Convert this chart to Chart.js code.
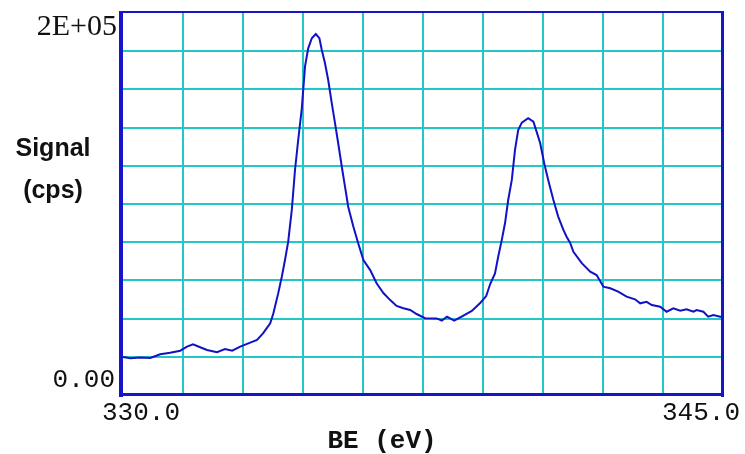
<!DOCTYPE html>
<html>
<head>
<meta charset="utf-8">
<script src="https://cdn.jsdelivr.net/npm/chart.js@4/dist/chart.umd.min.js"></script>
<style>
html,body{margin:0;padding:0;background:#fff;}
canvas{display:block;}
</style>
</head>
<body>
<canvas id="c" width="745" height="454"></canvas>
<script>
// Binding energy (eV)
const beValues = [330.00,330.18,330.43,330.68,330.93,331.18,331.43,331.60,331.75,331.93,
332.10,332.35,332.55,332.73,332.93,333.18,333.35,333.50,333.59,333.68,
333.76,333.88,333.97,334.05,334.13,334.22,334.30,334.38,334.47,334.55,
334.63,334.72,334.82,334.91,334.97,335.05,335.13,335.22,335.30,335.38,
335.47,335.55,335.63,335.76,335.88,336.01,336.18,336.34,336.51,336.68,
336.84,337.01,337.18,337.34,337.55,337.84,337.97,338.10,338.28,338.51,
338.72,338.93,339.08,339.18,339.30,339.38,339.47,339.55,339.63,339.72,
339.80,339.88,339.97,340.13,340.26,340.34,340.43,340.53,340.63,340.76,
340.88,341.01,341.09,341.18,341.26,341.47,341.68,341.84,342.01,342.18,
342.38,342.59,342.80,342.93,343.09,343.22,343.43,343.59,343.76,343.93,
344.09,344.26,344.34,344.51,344.63,344.76,344.93,345.00];
// Signal (cps)
const signalCps = [19900,19200,19600,19400,21300,22100,23200,25300,26500,25000,
23600,22400,24100,23200,25300,27400,28800,32300,34900,37500,
42800,53200,61900,70700,80300,96900,117800,133500,150100,171900,
181500,186800,189000,186800,180600,173700,164900,152700,142300,131800,
119500,109100,98600,88100,79400,70700,65400,58500,53400,49700,
46600,45400,44500,42400,40200,40100,39000,41000,39000,41600,
44000,48200,51800,58100,63700,72400,81200,89900,102100,112600,
128300,138700,142600,144900,143100,137900,131800,121300,112600,102100,
93400,86400,82900,79600,75000,69000,64600,62800,56700,55900,
54100,51500,50100,48000,48800,47100,46200,43600,45400,44100,
44900,43600,44500,43600,41000,41900,41000,41000];

const xTickValues = [330, 345];
const xTickLabels = ['330.0', '345.0'];
const yTickValues = [0, 200000];
const yTickLabels = ['0.00', '2E+05'];
const xTitle = 'BE (eV)';
const yTitleLines = ['Signal', '(cps)'];

const GRID = '#22c8c8';
const FRAME = '#1616c8';
const LINE = '#1212c4';

const gridColor = (ctx) => {
  const n = ctx.scale.ticks.length;
  return (ctx.index === 0 || ctx.index === n - 1) ? 'rgba(0,0,0,0)' : GRID;
};

const framePlugin = {
  id: 'frame',
  afterDatasetsDraw(chart) {
    const {ctx, chartArea: a} = chart;
    ctx.save();
    ctx.fillStyle = FRAME;
    ctx.fillRect(a.left - 4, a.top - 2, 4, a.bottom - a.top + 4);   // left
    ctx.fillRect(a.right - 2, a.top - 2, 3, a.bottom - a.top + 4);  // right
    ctx.fillRect(a.left - 4, a.top - 2, a.right - a.left + 5, 2);   // top
    ctx.fillRect(a.left - 4, a.bottom - 2, a.right - a.left + 5, 3);// bottom
    ctx.restore();
  }
};

const labelPlugin = {
  id: 'labels',
  afterDraw(chart) {
    const {ctx, chartArea: a} = chart;
    const xs = chart.scales.x, ys = chart.scales.y;
    ctx.save();
    ctx.fillStyle = '#111';
    ctx.textBaseline = 'alphabetic';
    // y tick labels
    ctx.textAlign = 'right';
    ctx.font = '26px "Liberation Mono"';
    ctx.fillText(yTickLabels[0], a.left - 8, ys.getPixelForValue(yTickValues[0]) - 8);
    ctx.font = '30px "Liberation Serif"';
    ctx.fillText(yTickLabels[1], a.left - 6, ys.getPixelForValue(yTickValues[1]) + 22);
    // x tick labels
    ctx.textAlign = 'center';
    ctx.font = '26px "Liberation Mono"';
    ctx.fillText(xTickLabels[0], xs.getPixelForValue(xTickValues[0]) + 18, a.bottom + 25);
    ctx.fillText(xTickLabels[1], xs.getPixelForValue(xTickValues[1]) - 22, a.bottom + 25);
    // x title
    ctx.font = 'bold 26px "Liberation Mono"';
    ctx.fillText(xTitle, 382, a.bottom + 53);
    // y title
    ctx.font = 'bold 25px "Liberation Sans"';
    ctx.fillText(yTitleLines[0], 53, 156);
    ctx.fillText(yTitleLines[1], 53, 198);
    ctx.restore();
  }
};

new Chart(document.getElementById('c'), {
  type: 'line',
  data: {
    datasets: [{
      data: beValues.map((x, i) => ({x: x, y: signalCps[i]})),
      borderColor: LINE,
      borderWidth: 2,
      pointRadius: 0,
      tension: 0,
      fill: false
    }]
  },
  options: {
    responsive: false,
    animation: false,
    events: [],
    layout: {padding: {left: 123, right: 22, top: 13, bottom: 59}},
    plugins: {legend: {display: false}, tooltip: {enabled: false}},
    scales: {
      x: {
        type: 'linear', min: 330, max: 345,
        ticks: {display: false, stepSize: 1.5},
        grid: {color: gridColor, lineWidth: 2, drawTicks: false},
        border: {display: false}
      },
      y: {
        type: 'linear', min: 0, max: 200000,
        ticks: {display: false, stepSize: 20000},
        grid: {color: gridColor, lineWidth: 2, drawTicks: false},
        border: {display: false}
      }
    }
  },
  plugins: [framePlugin, labelPlugin]
});
</script>
</body>
</html>
